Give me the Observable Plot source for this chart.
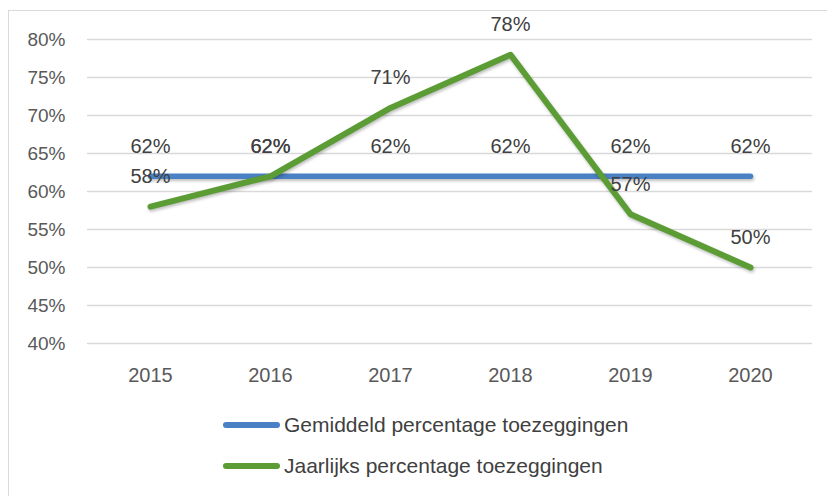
<!DOCTYPE html>
<html>
<head>
<meta charset="utf-8">
<script src="https://cdn.jsdelivr.net/npm/d3@7"></script>
<script src="https://cdn.jsdelivr.net/npm/@observablehq/plot@0.6"></script>
<style>
  html, body { margin: 0; padding: 0; background: #fff; }
  #wrap { position: relative; width: 827px; height: 496px; overflow: hidden; font-family: "Liberation Sans", Arial, sans-serif; }
  #frame { position: absolute; left: 8px; top: 10px; width: 840px; height: 520px; border: 1.5px solid #d9d9d9; box-sizing: border-box; }
  #chart { position: absolute; left: 0; top: 0; }
  .leg { position: absolute; left: 223px; display: flex; align-items: center; font-size: 21px; color: #404040; white-space: nowrap; }
  .sw { width: 57px; height: 6px; border-radius: 3px; margin-right: 4px; }
</style>
</head>
<body>
<div id="wrap">
  <div id="frame"></div>
  <div id="chart"></div>
  <div class="leg" style="top:413px"><div class="sw" style="background:#4a80c4"></div><span>Gemiddeld percentage toezeggingen</span></div>
  <div class="leg" style="top:454px"><div class="sw" style="background:#5b9c35"></div><span>Jaarlijks percentage toezeggingen</span></div>
</div>
<script>
const years = ["2015", "2016", "2017", "2018", "2019", "2020"];
const gemiddeld = [0.62, 0.62, 0.62, 0.62, 0.62, 0.62];
const jaarlijks = [0.58, 0.62, 0.71, 0.78, 0.57, 0.50];
const yTicks = [0.40, 0.45, 0.50, 0.55, 0.60, 0.65, 0.70, 0.75, 0.80];

const blue = "#4a80c4";
const green = "#5b9c35";
const pct = d => Math.round(d * 100) + "%";

const gemData = years.map((y, i) => ({year: y, value: gemiddeld[i]}));
const jaarData = years.map((y, i) => ({year: y, value: jaarlijks[i]}));

const chart = Plot.plot({
  width: 827,
  height: 400,
  marginTop: 39,
  marginBottom: 57,
  marginLeft: 87,
  marginRight: 15,
  style: {fontFamily: '"Liberation Sans", Arial, sans-serif', color: "#595959", background: "transparent"},
  x: {type: "point", domain: years, padding: 0.5},
  y: {domain: [0.40, 0.80]},
  marks: [
    Plot.ruleY(yTicks, {stroke: "#d9d9d9", strokeWidth: 1.5}),
    Plot.axisY(yTicks, {tickSize: 0, tickPadding: 22, tickFormat: pct, fontSize: 19, label: null}),
    Plot.axisX({tickSize: 0, tickPadding: 24, fontSize: 20, label: null}),
    Plot.line(gemData, {x: "year", y: "value", stroke: blue, strokeWidth: 5.5, strokeLinecap: "round", className: "ln"}),
    Plot.line(jaarData, {x: "year", y: "value", stroke: green, strokeWidth: 6, strokeLinecap: "round", strokeLinejoin: "round", className: "ln"}),
    Plot.text(gemData, {x: "year", y: "value", text: d => pct(d.value), dy: -30, fontSize: 20, fill: "#404040"}),
    Plot.text(jaarData, {x: "year", y: "value", text: d => pct(d.value), dy: -30, fontSize: 20, fill: "#404040"})
  ]
});
d3.select(chart).selectAll(".ln path").style("filter", "drop-shadow(1px 2px 1.5px rgba(0,0,0,0.25))");
document.getElementById("chart").appendChild(chart);
</script>
</body>
</html>
